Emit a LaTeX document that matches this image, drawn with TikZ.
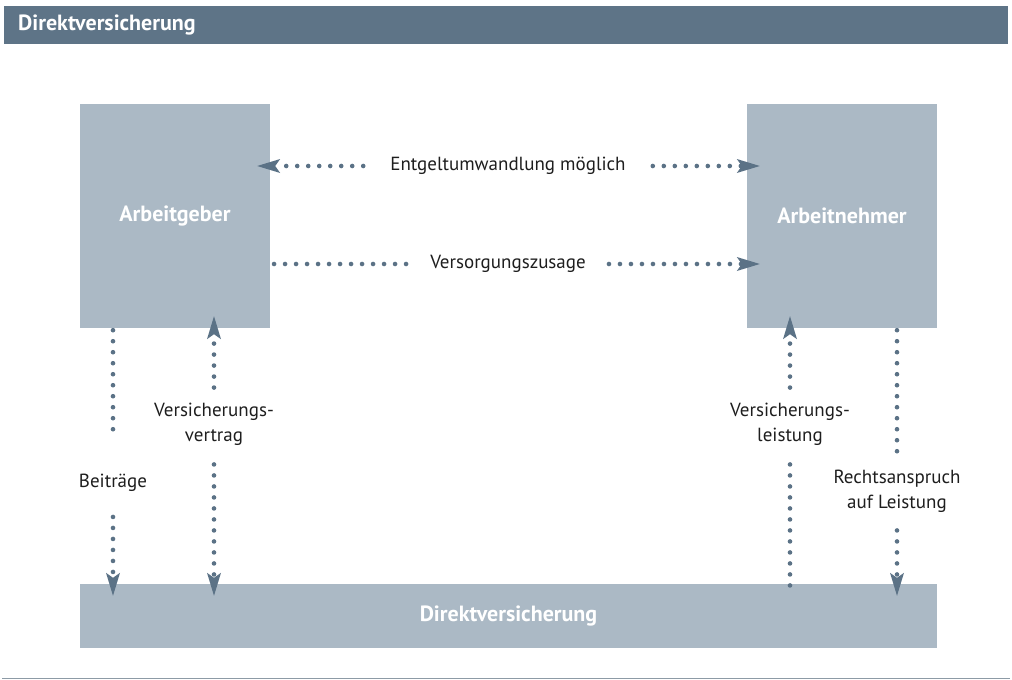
\documentclass[tikz,border=0pt]{standalone}
\usepackage{fontspec}
\setmainfont{PT Sans}
\usetikzlibrary{arrows.meta}
\definecolor{hdr}{HTML}{5E7487}
\definecolor{boxc}{HTML}{ABB9C5}
\definecolor{arr}{HTML}{5B7286}
\definecolor{txt}{HTML}{1E1E1E}
\definecolor{linec}{HTML}{8D9BA6}
\begin{document}
\begin{tikzpicture}[x=1pt,y=-1pt,
  box/.style={fill=boxc, draw=none, font=\bfseries\fontsize{22}{25}\selectfont, text=white, inner sep=0pt},
  lbl/.style={font=\fontsize{19}{25}\selectfont, text=txt, align=center, inner sep=3pt},
  dots/.style={draw=arr, line width=4.6pt, line cap=round, dash pattern=on 0pt off 11pt},
  tip/.style={-{Stealth[length=23pt,width=14pt,inset=5pt,line width=0pt]}}]
\useasboundingbox (0,0) rectangle (1012,680);
% header
\fill[hdr] (4,6) rectangle (1008,44);
\node[anchor=west, font=\bfseries\fontsize{22}{25}\selectfont, text=white, inner sep=0pt] (title) at (18,25) {Direktversicherung};
\draw[linec, line width=1pt] (2,678.5) -- (1010,678.5);
% boxes
\node[box, minimum width=190pt, minimum height=224pt] (ag) at (175,216) {Arbeitgeber};
\node[box, minimum width=190pt, minimum height=224pt] (an) at (842,216) {Arbeitnehmer};
\node[box, minimum width=857pt, minimum height=64pt] (dv) at (508.5,616) {Direktversicherung};
% labels
\node[lbl] (eu) at (508,166) {Entgeltumwandlung möglich};
\node[lbl] (vz) at (508,264) {Versorgungszusage};
\node[lbl] (bt) at (113,483) {Beiträge};
\node[lbl] (vv) at (214,424) {Versicherungs-\\vertrag};
\node[lbl] (vl) at (790,424) {Versicherungs-\\leistung};
\node[lbl] (ra) at (897,491) {Rechtsanspruch\\auf Leistung};
% horizontal connectors
\draw[dots,tip,shorten <=24pt,shorten >=-13pt] (eu.west) -- (ag.east |- eu.west);
\draw[dots,tip,shorten <=24pt,shorten >=-13pt] (eu.east) -- (an.west |- eu.east);
\draw[dots,shorten <=21pt] (vz.west) -- (ag.east |- vz.west);
\draw[dots,tip,shorten <=20pt,shorten >=-13pt] (vz.east) -- (an.west |- vz.east);
% vertical connectors
\draw[dots,shorten <=2pt,shorten >=38pt] (ag.south -| bt.north) -- (bt.north);
\draw[dots,tip,shorten <=22pt,shorten >=-12pt] (bt.south) -- (dv.north -| bt.south);
\draw[dots,tip,shorten <=12pt,shorten >=-12pt] (vv.north) -- (ag.south -| vv.north);
\draw[dots,tip,shorten <=16pt,shorten >=-12pt] (vv.south) -- (dv.north -| vv.south);
\draw[dots,tip,shorten <=12pt,shorten >=-12pt] (vl.north) -- (an.south -| vl.north);
\draw[dots,shorten <=16pt,shorten >=-4pt] (vl.south) -- (dv.north -| vl.south);
\draw[dots,shorten <=2pt,shorten >=14pt] (an.south -| ra.north) -- (ra.north);
\draw[dots,tip,shorten <=15pt,shorten >=-12pt] (ra.south) -- (dv.north -| ra.south);
\end{tikzpicture}
\end{document}
